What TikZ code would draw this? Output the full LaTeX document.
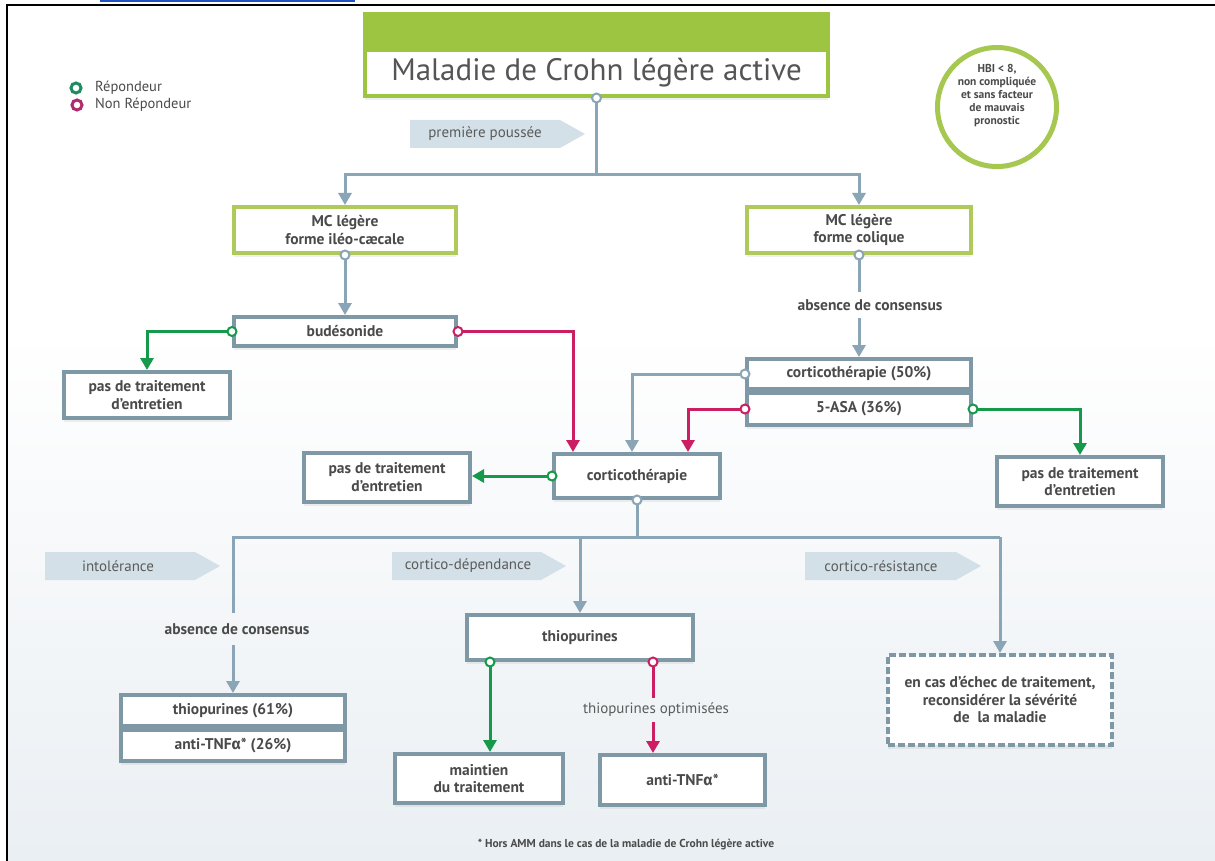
\documentclass[tikz,border=0pt]{standalone}
\usepackage{fontspec}
\setmainfont{PT Sans}
\newfontfamily\grk{Fira Sans}
\usetikzlibrary{arrows.meta,shadows,calc}
\definecolor{boxc}{HTML}{7F98A6}
\definecolor{linec}{HTML}{8AA5B5}
\definecolor{gboxc}{HTML}{AFC95A}
\definecolor{tgreen}{HTML}{9DC541}
\definecolor{garr}{HTML}{17994B}
\definecolor{parr}{HTML}{CC1F63}
\definecolor{txt}{HTML}{4A4A4A}
\definecolor{txtb}{HTML}{555555}
\definecolor{tagc}{HTML}{D3E0E8}
\definecolor{tagt}{HTML}{5B5B5B}
\definecolor{hbic}{HTML}{A6C851}
\definecolor{bgc}{HTML}{EAEFF3}
\definecolor{legg}{HTML}{1E8C5E}
\definecolor{legp}{HTML}{B02C6C}
\definecolor{linkc}{HTML}{2150C0}
\begin{document}
\begin{tikzpicture}[x=1pt,y=-1pt,
  lbl/.style={font=\bfseries\fontsize{15.5}{17.5}\selectfont, text=txt, align=center},
  box/.style={lbl, draw=boxc, line width=4pt, fill=white, inner sep=1pt,
    drop shadow={shadow xshift=0pt, shadow yshift=-4pt, opacity=0.12}},
  gbox/.style={box, draw=gboxc},
  conn/.style={draw=linec, line width=3pt},
  gconn/.style={draw=garr, line width=3pt},
  pconn/.style={draw=parr, line width=3pt},
  headarr/.style={-{Triangle[width=13pt,length=12pt]}},
  ring/.style={fill=white, line width=2pt},
  tagtext/.style={font=\fontsize{15}{17}\selectfont, text=tagt},
]
\useasboundingbox (0,0) rectangle (1215,861);
\fill[white] (0,0) rectangle (1215,861);
\shade[top color=white, bottom color=bgc] (7,330) rectangle (1215,861);
% frame
\draw[black, line width=2pt] (1215,5) -- (7,5) -- (7,861);
\draw[linkc, line width=2pt] (100,1) -- (355,1);

% title
\node[fill=tgreen, minimum width=467pt, minimum height=38pt, inner sep=0pt] (tbar) at (596.5,31) {};
\node[box, draw=tgreen, minimum width=463pt, minimum height=46pt,
  font=\fontsize{31}{34}\selectfont, text=txtb] (title) at (596.5,73) {Maladie de Crohn légère active};

% legend
\draw[ring, draw=legg, line width=3pt] (76,88) circle (5pt);
\node[anchor=west, inner sep=2pt, font=\fontsize{14.5}{16}\selectfont, text=txt] (lg1) at (93,88) {Répondeur};
\draw[ring, draw=legp, line width=3pt] (77,105) circle (5pt);
\node[anchor=west, inner sep=2pt, font=\fontsize{14.5}{16}\selectfont, text=txt] (lg2) at (93,105) {Non Répondeur};

% HBI circle
\node[circle, draw=hbic, line width=5pt, fill=white, minimum size=119pt,
  drop shadow={shadow xshift=0pt, shadow yshift=-3pt, opacity=0.10}] (hbi) at (997,107) {};
\node[lbl, font=\bfseries\fontsize{11.5}{13}\selectfont] (hbit) at (997,96)
  {HBI < 8,\\non compliquée\\et sans facteur\\de mauvais\\pronostic};

% tags
\fill[tagc] (410,120) -- (560,120) -- (585,134) -- (560,148) -- (410,148) -- cycle;
\node[tagtext] (tag1) at (485,134) {première poussée};
\fill[tagc] (45,552) -- (195,552) -- (220,566) -- (195,580) -- (45,580) -- cycle;
\node[tagtext] (tag2) at (118,566) {intolérance};
\fill[tagc] (392,552) -- (541,552) -- (566,566) -- (541,580) -- (392,580) -- cycle;
\node[tagtext] (tag3) at (468,566) {cortico-dépendance};
\fill[tagc] (805,552) -- (956,552) -- (981,566) -- (956,580) -- (805,580) -- cycle;
\node[tagtext] (tag4) at (881,566) {cortico-résistance};

% boxes
\node[gbox, minimum width=222pt, minimum height=46pt] (ileo) at (345,230) {MC légère\\forme iléo-cæcale};
\node[gbox, minimum width=224pt, minimum height=46pt] (colique) at (859,230) {MC légère\\forme colique};
\node[box, minimum width=222pt, minimum height=29pt] (bud) at (345,331.5) {budésonide};
\node[box, minimum width=166pt, minimum height=46pt] (pasL) at (147,395) {pas de traitement\\d’entretien};
\node[box, minimum width=166pt, minimum height=44pt] (cortico) at (637,476) {corticothérapie};
\node[box, minimum width=166pt, minimum height=49pt] (pasC) at (387,477) {pas de traitement\\d’entretien};
\node[box, minimum width=224pt, minimum height=30pt] (cp) at (859,374) {corticothérapie (50\%)};
\node[box, minimum width=224pt, minimum height=32pt] (asa) at (859,409) {5-ASA (36\%)};
\node[box, minimum width=166pt, minimum height=49pt] (pasR) at (1080,481.5) {pas de traitement\\d’entretien};
\node[box, minimum width=226pt, minimum height=45pt] (thio) at (580,637.5) {thiopurines};
\node[box, minimum width=224pt, minimum height=31pt] (t61) at (233,710.5) {thiopurines (61\%)};
\node[box, minimum width=224pt, minimum height=31pt] (t26) at (233,745.5) {anti-TNF{\grk α}* (26\%)};
\node[box, minimum width=168pt, minimum height=49pt] (maint) at (479,778.5) {maintien\\du traitement};
\node[box, minimum width=165pt, minimum height=50pt] (anti) at (682.5,780) {anti-TNF{\grk α}*};
\node[box, dash pattern=on 7pt off 3pt, minimum width=224pt, minimum height=90pt] (fail) at (1000,700)
  {en cas d’échec de traitement,\\reconsidérer la sévérité\\de\ \ la maladie};

% text labels on connectors
\node[lbl, minimum height=26pt] (abs1) at (870,305) {absence de consensus};
\node[lbl, minimum height=32pt] (abs2) at (237,629) {absence de consensus};
\node[tagtext, minimum height=24pt] (opt) at (656,710) {thiopurines optimisées};
\node[font=\bfseries\fontsize{11.5}{13}\selectfont, text=txt] (foot) at (626,845)
  {* Hors AMM dans le cas de la maladie de Crohn légère active};

% connectors
\coordinate (sp) at (596.5,175);
\draw[conn] (title.south) -- (sp);
\draw[conn, headarr] (sp) -| (ileo.north);
\draw[conn, headarr] (sp) -| (colique.north);
\draw[conn, headarr] (ileo.south) -- (bud.north);
\draw[gconn, headarr] (bud.west) -| (pasL.north);
\coordinate (xa) at (573,0);
\draw[pconn, headarr] (bud.east) -| (xa |- cortico.north);
\draw[conn] (colique.south) -- (colique.south |- abs1.north);
\draw[conn, headarr] (colique.south |- abs1.south) -- (cp.north);
\coordinate (xb) at (632,0);
\draw[conn, headarr] (cp.west) -| (xb |- cortico.north);
\coordinate (xc) at (688,0);
\draw[pconn, headarr] (asa.west) -| (xc |- cortico.north);
\draw[gconn, headarr] (asa.east) -| (pasR.north);
\draw[gconn, headarr] (cortico.west) -- (cortico.west -| pasC.east);
\coordinate (bl) at (233,537);
\coordinate (br) at (1000,537);
\draw[conn] (cortico.south) -- (cortico.south |- bl);
\draw[conn] (bl |- abs2.north) -- (bl) -- (br);
\draw[conn, headarr] (br) -- (fail.north);
\draw[conn, headarr] (bl |- abs2.south) -- (t61.north);
\draw[conn, headarr] (thio.north |- bl) -- (thio.north);
\coordinate (tg) at (490,0);
\coordinate (tp) at (653,0);
\draw[gconn, headarr] (tg |- thio.south) -- (tg |- maint.north);
\draw[pconn] (tp |- thio.south) -- (tp |- opt.north);
\draw[pconn, headarr] (tp |- opt.south) -- (tp |- anti.north);

% rings
\foreach \p in {title.south, ileo.south, colique.south, cp.west, cortico.south}
  \draw[ring, draw=linec] (\p) circle (4.5pt);
\foreach \p in {bud.west, asa.east, cortico.west, tg |- thio.south}
  \draw[ring, draw=garr] (\p) circle (4.5pt);
\foreach \p in {bud.east, asa.west, tp |- thio.south}
  \draw[ring, draw=parr] (\p) circle (4.5pt);
\end{tikzpicture}
\end{document}
